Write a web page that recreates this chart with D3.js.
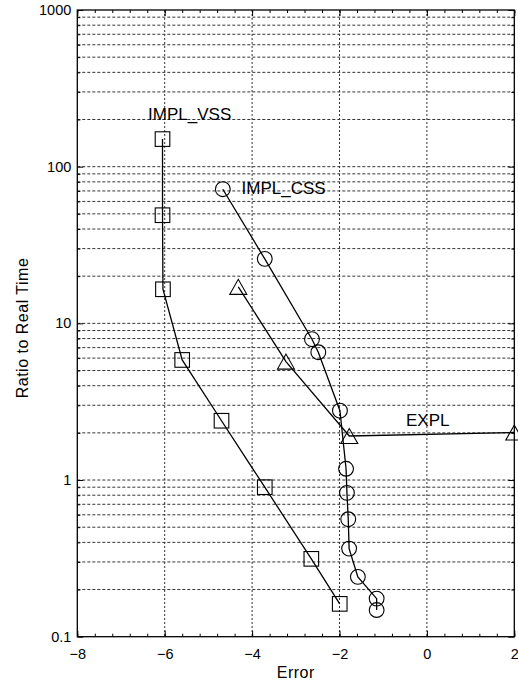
<!DOCTYPE html>
<html>
<head>
<meta charset="utf-8">
<script src="https://cdn.jsdelivr.net/npm/d3@7"></script>
<style>
  body { margin: 0; background: #fff; }
  text { font-family: "Liberation Sans", Arial, Helvetica, sans-serif; fill: #000; }
</style>
</head>
<body>
<script>
// data
var vssX = [-6.05, -6.05, -6.04, -5.60, -4.70, -3.71, -2.645, -1.995]
var vssY = [150, 49, 16.5, 5.84, 2.39, 0.90, 0.314, 0.162]

var cssX = [-4.67, -3.71, -2.63, -2.485, -1.99, -1.85, -1.83, -1.80, -1.78, -1.58, -1.15, -1.15]
var cssY = [71.8, 25.8, 7.92, 6.54, 2.77, 1.18, 0.828, 0.562, 0.365, 0.241, 0.175, 0.148]

var explX = [-4.316, -3.225, -1.776, 2.0]
var explY = [17.1, 5.70, 1.91, 2.01]

var xTicks = [-8, -6, -4, -2, 0, 2]
var xTickLabels = ['\u22128', '\u22126', '\u22124', '\u22122', '0', '2']
var yTicks = [0.1, 1, 10, 100, 1000]
var yTickLabels = ['0.1', '1', '10', '100', '1000']

var labels = [
  {text: 'IMPL_VSS', x: -6.38, y: 198},
  {text: 'IMPL_CSS', x: -4.24, y: 67},
  {text: 'EXPL', x: -0.478, y: 2.21}
]

var wdt = 518, hgt = 680
var pL = 77.3, pR = 514.3, pT = 10, pB = 636.7

var svg = d3.select(document.body).append('svg')
  .attr('width', wdt)
  .attr('height', hgt)

var x = d3.scaleLinear().domain([-8, 2]).range([pL, pR])
var y = d3.scaleLog().domain([0.1, 1000]).range([pB, pT])

// minor positions
var xMinor = d3.range(0, 26).map(function(i) { return -8 + i * 0.4 })
var yMinor = []
;[0.1, 1, 10, 100].forEach(function(d) {
  for (var k = 2; k <= 9; k++) yMinor.push(d * k)
})

// grid
var grid = svg.append('g')
grid.selectAll('line.h').data(yMinor.concat([1, 10, 100])).enter().append('line')
  .attr('x1', pL).attr('x2', pR)
  .attr('y1', function(d) { return y(d) }).attr('y2', function(d) { return y(d) })
  .attr('stroke', '#333').attr('stroke-width', 1)
  .attr('stroke-dasharray', '3,2')
grid.selectAll('line.v').data([-6, -4, -2, 0]).enter().append('line')
  .attr('y1', pT).attr('y2', pB)
  .attr('x1', function(d) { return x(d) }).attr('x2', function(d) { return x(d) })
  .attr('stroke', '#333').attr('stroke-width', 1)
  .attr('stroke-dasharray', '2,2')

// axes, ticks inside
function styleAxis(g) {
  g.select('.domain').remove()
  g.selectAll('.tick line').attr('stroke', '#000')
  g.selectAll('.tick text').style('font-size', '14.5px')
    .style('font-family', '"Liberation Sans", Arial, sans-serif').attr('fill', '#000')
}

svg.append('g').attr('transform', 'translate(0,' + pB + ')')
  .call(d3.axisBottom(x).tickValues(xTicks).tickSize(-6).tickPadding(12)
    .tickFormat(function(d, i) { return xTickLabels[i] }))
  .call(styleAxis)
svg.append('g').attr('transform', 'translate(0,' + pB + ')')
  .call(d3.axisBottom(x).tickValues(xMinor).tickSize(-3).tickFormat(''))
  .call(styleAxis)
svg.append('g').attr('transform', 'translate(0,' + pT + ')')
  .call(d3.axisTop(x).tickValues(xTicks).tickSize(-6).tickFormat(''))
  .call(styleAxis)
svg.append('g').attr('transform', 'translate(0,' + pT + ')')
  .call(d3.axisTop(x).tickValues(xMinor).tickSize(-3).tickFormat(''))
  .call(styleAxis)

svg.append('g').attr('transform', 'translate(' + pL + ',0)')
  .call(d3.axisLeft(y).tickValues(yTicks).tickSize(-6).tickPadding(6)
    .tickFormat(function(d, i) { return yTickLabels[i] }))
  .call(styleAxis)
svg.append('g').attr('transform', 'translate(' + pL + ',0)')
  .call(d3.axisLeft(y).tickValues(yMinor).tickSize(-3).tickFormat(''))
  .call(styleAxis)
svg.append('g').attr('transform', 'translate(' + pR + ',0)')
  .call(d3.axisRight(y).tickValues(yTicks).tickSize(-6).tickFormat(''))
  .call(styleAxis)
svg.append('g').attr('transform', 'translate(' + pR + ',0)')
  .call(d3.axisRight(y).tickValues(yMinor).tickSize(-3).tickFormat(''))
  .call(styleAxis)

// frame
svg.append('rect')
  .attr('x', pL).attr('y', pT)
  .attr('width', pR - pL).attr('height', pB - pT)
  .attr('fill', 'none').attr('stroke', '#000').attr('stroke-width', 1.3)

// series
var line = d3.line()
  .x(function(d) { return x(d[0]) })
  .y(function(d) { return y(d[1]) })

function pairs(xs, ys) { return xs.map(function(v, i) { return [v, ys[i]] }) }

var series = [
  {pts: pairs(vssX, vssY), sym: 'square'},
  {pts: pairs(cssX, cssY), sym: 'circle'},
  {pts: pairs(explX, explY), sym: 'triangle'}
]

series.forEach(function(s) {
  svg.append('path').datum(s.pts)
    .attr('d', line)
    .attr('fill', 'none').attr('stroke', '#000').attr('stroke-width', 1.3)

  var g = svg.append('g')
  if (s.sym === 'square') {
    g.selectAll('rect').data(s.pts).enter().append('rect')
      .attr('x', function(d) { return x(d[0]) - 7.3 })
      .attr('y', function(d) { return y(d[1]) - 7.3 })
      .attr('width', 14.6).attr('height', 14.6)
      .attr('fill', 'none').attr('stroke', '#000').attr('stroke-width', 1.1)
  } else if (s.sym === 'circle') {
    g.selectAll('circle').data(s.pts).enter().append('circle')
      .attr('cx', function(d) { return x(d[0]) })
      .attr('cy', function(d) { return y(d[1]) })
      .attr('r', 7.4)
      .attr('fill', 'none').attr('stroke', '#000').attr('stroke-width', 1.1)
  } else {
    g.selectAll('path').data(s.pts).enter().append('path')
      .attr('d', function(d) {
        var cx = x(d[0]), cy = y(d[1])
        return 'M' + (cx - 8.5) + ',' + (cy + 7.5) + 'L' + (cx + 8.5) + ',' + (cy + 7.5) +
          'L' + cx + ',' + (cy - 7.5) + 'Z'
      })
      .attr('fill', 'none').attr('stroke', '#000').attr('stroke-width', 1.1)
  }
})

// series labels
svg.selectAll('text.lbl').data(labels).enter().append('text')
  .attr('class', 'lbl')
  .attr('x', function(d) { return x(d.x) })
  .attr('y', function(d) { return y(d.y) })
  .style('font-size', '17px')
  .text(function(d) { return d.text })

// axis titles
svg.append('text')
  .attr('x', (pL + pR) / 2).attr('y', 678)
  .attr('text-anchor', 'middle')
  .style('font-size', '16px').style('letter-spacing', '0.5px')
  .text('Error')

svg.append('text')
  .attr('transform', 'translate(28,328) rotate(-90)')
  .attr('text-anchor', 'middle')
  .style('font-size', '16px').style('letter-spacing', '0.5px')
  .text('Ratio to Real Time')
</script>
</body>
</html>
